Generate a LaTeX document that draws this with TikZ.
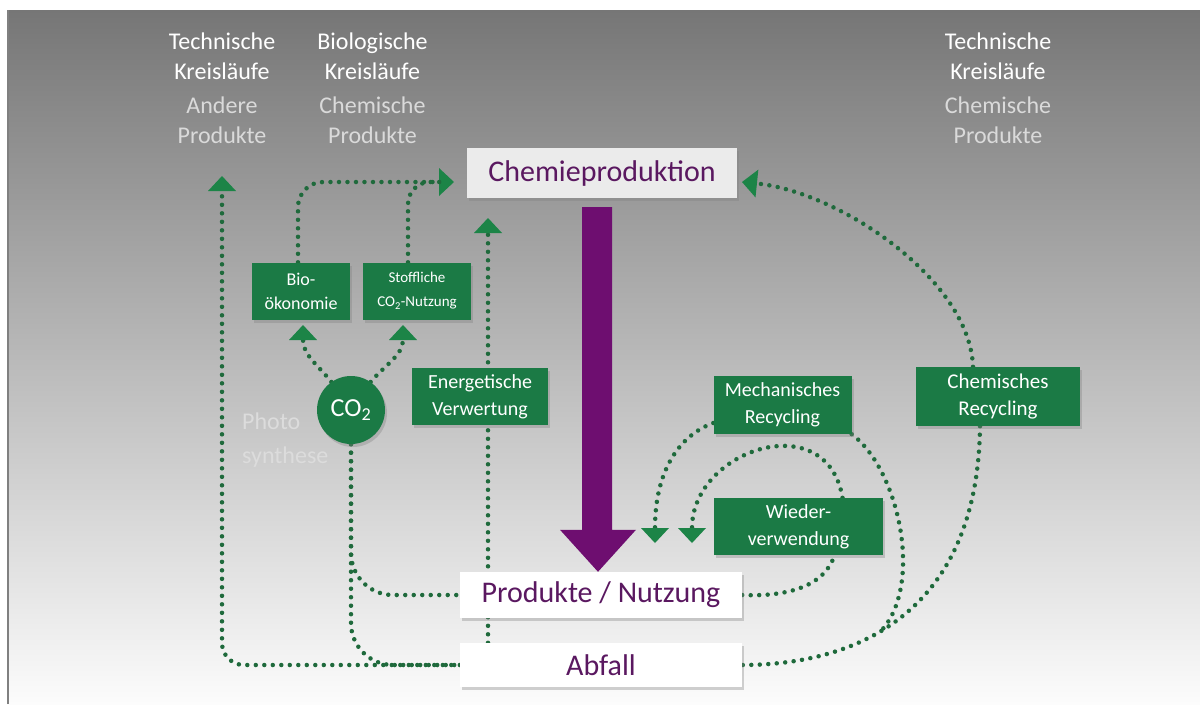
\documentclass[tikz,border=0pt]{standalone}
\usepackage{fontspec}
\setmainfont{Carlito}
\usetikzlibrary{arrows.meta,shadows,calc}
\definecolor{boxgreen}{HTML}{1B7A45}
\definecolor{dotgreen}{HTML}{1F6A3C}
\definecolor{tipgreen}{HTML}{1C8447}
\definecolor{purp}{HTML}{6E0E70}
\definecolor{purptext}{HTML}{5A1860}
\definecolor{subgray}{HTML}{DADADA}
\pgfdeclarelayer{back}
\pgfdeclarelayer{lines}
\pgfsetlayers{back,lines,main}
\tikzset{gtip/.tip={Triangle[length=15pt,width=28pt,line width=0pt,color=tipgreen]}}
\begin{document}
\begin{tikzpicture}[x=1pt,y=-1pt,
  gbox/.style={fill=boxgreen, text=white, align=center, inner sep=0pt,
    font=\fontsize{20}{27}\selectfont,
    drop shadow={opacity=0.35,shadow xshift=2pt,shadow yshift=-3pt}},
  wbox/.style={fill=white, text=purptext, inner sep=0pt,
    font=\fontsize{30}{34}\selectfont,
    drop shadow={opacity=0.35,shadow xshift=2pt,shadow yshift=-3pt}},
  headtext/.style={text=white, align=center, inner sep=0pt, font=\fontsize{24}{30}\selectfont},
  subtext/.style={text=subgray, align=center, inner sep=0pt, font=\fontsize{24}{30}\selectfont},
  dotline/.style={draw=dotgreen, line width=4.5pt, line cap=round, dash pattern=on 0pt off 8.5pt},
]
\begin{pgfonlayer}{back}
\fill[white] (0,0) rectangle (1200,704);
\shade[top color={rgb,255:red,118;green,118;blue,118}, bottom color={rgb,255:red,252;green,252;blue,252}] (7,10) rectangle (1200,704);
\draw[gray, line width=1.5pt] (7.75,10) -- (7.75,704);
\end{pgfonlayer}

% header texts
\node[headtext] (h1) at (222,56.5) {Technische\\Kreisläufe};
\node[subtext] (s1) at (222,120) {Andere\\Produkte};
\node[headtext] (h2) at (372.5,56.5) {Biologische\\Kreisläufe};
\node[subtext] (s2) at (372.5,120) {Chemische\\Produkte};
\node[headtext] (h3) at (998,56.5) {Technische\\Kreisläufe};
\node[subtext] (s3) at (998,120) {Chemische\\Produkte};

% main boxes
\node[wbox, minimum width=270pt, minimum height=50pt, fill=white!92!black] (chem) at (602,173) {Chemieproduktion};
\node[wbox, minimum width=282pt, minimum height=46pt] (prod) at (601,595) {Produkte / Nutzung};
\node[wbox, minimum width=282pt, minimum height=44pt] (abf) at (601,665) {Abfall};

% green boxes
\node[gbox, minimum width=98pt, minimum height=57pt, font=\fontsize{18}{24}\selectfont] (bio) at (301,291) {Bio-\\ökonomie};
\node[gbox, minimum width=108pt, minimum height=57pt, font=\fontsize{15}{24}\selectfont] (stoff) at (417,291) {Stoffliche\\CO\textsubscript{2}-Nutzung};
\node[circle, fill=boxgreen, minimum size=68pt, inner sep=0pt, text=white, font=\fontsize{26}{30}\selectfont,
  drop shadow={opacity=0.35,shadow xshift=2pt,shadow yshift=-3pt}] (co2) at (351,410) {CO\textsubscript{2}};
\node[text=subgray!95!white, align=left, anchor=west, inner sep=0pt, font=\fontsize{24}{34}\selectfont] (photo) at (242,440) {Photo\\synthese};
\node[gbox, minimum width=136pt, minimum height=57pt] (ener) at (480,396.5) {Energetische\\Verwertung};
\node[gbox, minimum width=138pt, minimum height=58pt] (mech) at (782.5,405) {Mechanisches\\Recycling};
\node[gbox, minimum width=169pt, minimum height=57pt] (wied) at (798.5,526.5) {Wieder-\\verwendung};
\node[gbox, minimum width=164pt, minimum height=59pt, font=\fontsize{21}{27}\selectfont] (chemrec) at (998,396.5) {Chemisches\\Recycling};

% arrow targets
\coordinate (tA) at (222,176);
\coordinate (tB) at (454,182);
\coordinate (tBbase) at (440,182);
\coordinate (tE) at (488,218);
\coordinate (tC) at (742,182);
\coordinate (tBio) at (303,325);
\coordinate (tSt) at (403,325);
\coordinate (tM1) at (655,543);
\coordinate (tM2) at (692,543);

\begin{pgfonlayer}{lines}
\draw[dotline, -gtip, rounded corners=22pt] (abf.west) -| (tA);
\draw[dotline, rounded corners=42pt] (co2.south) |- (prod.west);
\draw[dotline, rounded corners=42pt] (co2.south) |- (abf.west);
\draw[dotline, -gtip] (abf.north -| tE) -- (tE);
\draw[dotline, -gtip, rounded corners=25pt] ([xshift=-3pt]bio.north) |- (tB);
\draw[dotline, rounded corners=22pt] ([xshift=-9pt]stoff.north) |- (tBbase);
\draw[dotline, -gtip] (co2.125) .. controls (318,365) and (303,355) .. (tBio);
\draw[dotline, -gtip] (co2.55) .. controls (385,365) and (403,355) .. (tSt);
\draw[dotline, -gtip] ([xshift=-25pt]chemrec.north) .. controls (970,280) and (840,192) .. (tC);
\draw[dotline] ([xshift=-18pt]chemrec.south) .. controls (978,610) and (860,665) .. (abf.east);
\draw[dotline] (mech.south east) .. controls (900,470) and (925,590) .. (878,634);
\draw[dotline, -gtip] ([yshift=-18pt]mech.west) .. controls (680,435) and (655,470) .. (tM1);
\draw[dotline] (prod.east) .. controls (790,597) and (825,585) .. ([xshift=36pt]wied.south);
\draw[dotline, -gtip] ([xshift=44pt]wied.north) .. controls (827,405) and (692,450) .. (tM2);
\end{pgfonlayer}

% purple arrow
\coordinate (ps) at ([shift={(-5,9)}]chem.south);
\coordinate (pe) at ([xshift=-3pt]prod.north);
\coordinate (hb) at ($(pe)+(0,-42)$);
\fill[purp] ($(ps)+(-15,0)$) -- ($(ps)+(15,0)$) -- ($(ps|-hb)+(15,0)$) -- ($(hb)+(38,0)$) -- (pe) -- ($(hb)+(-38,0)$) -- ($(ps|-hb)+(-15,0)$) -- cycle;
\end{tikzpicture}
\end{document}
